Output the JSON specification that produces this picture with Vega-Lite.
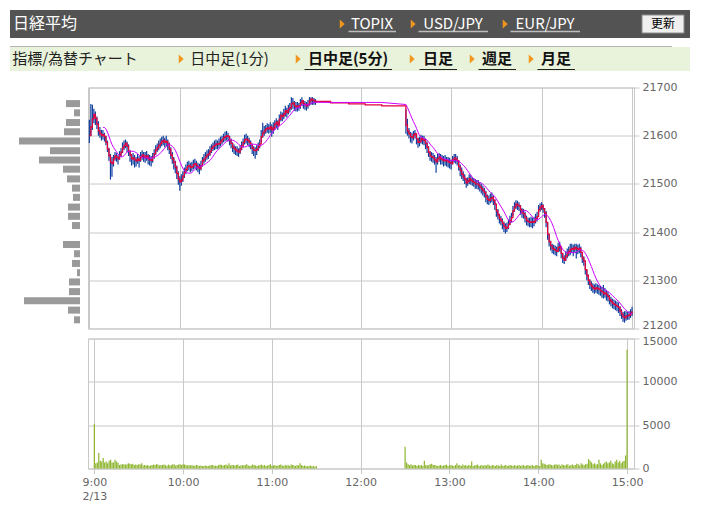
{
"$schema":"https://vega.github.io/schema/vega-lite/v6.json",
"padding":{"left":10,"top":10,"right":5,"bottom":5},
"config":{"view":{"stroke":null},"font":"DejaVu Sans","concat":{"spacing":0}},
"datasets":{
"bars":[
{"m":0,"c":21600,"h":21633,"l":21585,"v":5100},{"m":1,"c":21618,"h":21666,"l":21600,"v":600},{"m":2,"c":21635,"h":21664,"l":21612,"v":700},{"m":3,"c":21644,"h":21656,"l":21626,"v":1800},{"m":4,"c":21636,"h":21650,"l":21622,"v":900},{"m":5,"c":21624,"h":21640,"l":21614,"v":800},{"m":6,"c":21610,"h":21630,"l":21600,"v":1200},{"m":7,"c":21604,"h":21618,"l":21596,"v":700},{"m":8,"c":21600,"h":21612,"l":21590,"v":800},{"m":9,"c":21602,"h":21612,"l":21592,"v":600},
{"m":10,"c":21598,"h":21606,"l":21588,"v":900},{"m":11,"c":21586,"h":21600,"l":21580,"v":1000},{"m":12,"c":21572,"h":21590,"l":21566,"v":700},{"m":13,"c":21558,"h":21575,"l":21548,"v":700},{"m":14,"c":21545,"h":21562,"l":21509,"v":1000},{"m":15,"c":21542,"h":21556,"l":21515,"v":800},{"m":16,"c":21552,"h":21560,"l":21536,"v":650},{"m":17,"c":21558,"h":21566,"l":21548,"v":400},{"m":18,"c":21555,"h":21564,"l":21546,"v":450},{"m":19,"c":21552,"h":21560,"l":21540,"v":500},
{"m":20,"c":21560,"h":21568,"l":21550,"v":500},{"m":21,"c":21566,"h":21574,"l":21556,"v":450},{"m":22,"c":21575,"h":21586,"l":21564,"v":500},{"m":23,"c":21580,"h":21590,"l":21570,"v":600},{"m":24,"c":21584,"h":21592,"l":21574,"v":550},{"m":25,"c":21578,"h":21588,"l":21566,"v":500},{"m":26,"c":21568,"h":21582,"l":21558,"v":550},{"m":27,"c":21560,"h":21570,"l":21546,"v":400},{"m":28,"c":21552,"h":21562,"l":21538,"v":450},{"m":29,"c":21554,"h":21564,"l":21540,"v":400},
{"m":30,"c":21550,"h":21560,"l":21534,"v":500},{"m":31,"c":21548,"h":21556,"l":21536,"v":450},{"m":32,"c":21552,"h":21562,"l":21542,"v":600},{"m":33,"c":21549,"h":21558,"l":21534,"v":350},{"m":34,"c":21556,"h":21566,"l":21546,"v":400},{"m":35,"c":21560,"h":21570,"l":21550,"v":350},{"m":36,"c":21558,"h":21566,"l":21546,"v":400},{"m":37,"c":21555,"h":21566,"l":21544,"v":300},{"m":38,"c":21558,"h":21568,"l":21548,"v":350},{"m":39,"c":21552,"h":21562,"l":21540,"v":400},
{"m":40,"c":21550,"h":21560,"l":21538,"v":450},{"m":41,"c":21549,"h":21558,"l":21536,"v":400},{"m":42,"c":21555,"h":21564,"l":21544,"v":500},{"m":43,"c":21563,"h":21572,"l":21552,"v":450},{"m":44,"c":21570,"h":21580,"l":21560,"v":350},{"m":45,"c":21575,"h":21584,"l":21566,"v":400},{"m":46,"c":21580,"h":21590,"l":21570,"v":400},{"m":47,"c":21584,"h":21594,"l":21574,"v":450},{"m":48,"c":21588,"h":21598,"l":21578,"v":400},{"m":49,"c":21590,"h":21600,"l":21580,"v":300},
{"m":50,"c":21586,"h":21596,"l":21576,"v":450},{"m":51,"c":21588,"h":21600,"l":21578,"v":350},{"m":52,"c":21582,"h":21592,"l":21570,"v":400},{"m":53,"c":21572,"h":21586,"l":21562,"v":500},{"m":54,"c":21560,"h":21576,"l":21552,"v":450},{"m":55,"c":21552,"h":21566,"l":21542,"v":350},{"m":56,"c":21545,"h":21556,"l":21530,"v":400},{"m":57,"c":21535,"h":21548,"l":21522,"v":450},{"m":58,"c":21522,"h":21538,"l":21510,"v":500},{"m":59,"c":21510,"h":21526,"l":21498,"v":400},
{"m":60,"c":21504,"h":21516,"l":21486,"v":500},{"m":61,"c":21508,"h":21520,"l":21496,"v":450},{"m":62,"c":21516,"h":21526,"l":21504,"v":400},{"m":63,"c":21524,"h":21534,"l":21512,"v":350},{"m":64,"c":21530,"h":21540,"l":21520,"v":400},{"m":65,"c":21536,"h":21546,"l":21526,"v":350},{"m":66,"c":21538,"h":21548,"l":21528,"v":400},{"m":67,"c":21534,"h":21544,"l":21524,"v":300},{"m":68,"c":21536,"h":21546,"l":21526,"v":350},{"m":69,"c":21540,"h":21550,"l":21530,"v":400},
{"m":70,"c":21542,"h":21552,"l":21532,"v":350},{"m":71,"c":21538,"h":21548,"l":21528,"v":300},{"m":72,"c":21534,"h":21544,"l":21524,"v":350},{"m":73,"c":21532,"h":21542,"l":21520,"v":300},{"m":74,"c":21538,"h":21548,"l":21528,"v":300},{"m":75,"c":21548,"h":21556,"l":21536,"v":350},{"m":76,"c":21552,"h":21562,"l":21542,"v":300},{"m":77,"c":21556,"h":21566,"l":21546,"v":300},{"m":78,"c":21560,"h":21570,"l":21550,"v":350},{"m":79,"c":21562,"h":21572,"l":21552,"v":400},
{"m":80,"c":21568,"h":21578,"l":21558,"v":400},{"m":81,"c":21574,"h":21582,"l":21564,"v":300},{"m":82,"c":21578,"h":21586,"l":21568,"v":350},{"m":83,"c":21580,"h":21590,"l":21570,"v":300},{"m":84,"c":21583,"h":21592,"l":21572,"v":400},{"m":85,"c":21582,"h":21590,"l":21572,"v":450},{"m":86,"c":21584,"h":21594,"l":21574,"v":400},{"m":87,"c":21588,"h":21598,"l":21578,"v":350},{"m":88,"c":21592,"h":21600,"l":21582,"v":400},{"m":89,"c":21596,"h":21604,"l":21586,"v":450},
{"m":90,"c":21598,"h":21608,"l":21588,"v":350},{"m":91,"c":21600,"h":21610,"l":21590,"v":600},{"m":92,"c":21598,"h":21606,"l":21588,"v":350},{"m":93,"c":21590,"h":21600,"l":21580,"v":400},{"m":94,"c":21584,"h":21594,"l":21574,"v":400},{"m":95,"c":21576,"h":21586,"l":21566,"v":350},{"m":96,"c":21573,"h":21582,"l":21562,"v":400},{"m":97,"c":21570,"h":21578,"l":21560,"v":450},{"m":98,"c":21568,"h":21578,"l":21558,"v":300},{"m":99,"c":21566,"h":21574,"l":21556,"v":350},
{"m":100,"c":21572,"h":21580,"l":21562,"v":400},{"m":101,"c":21579,"h":21588,"l":21570,"v":350},{"m":102,"c":21586,"h":21594,"l":21576,"v":400},{"m":103,"c":21592,"h":21602,"l":21582,"v":500},{"m":104,"c":21593,"h":21604,"l":21584,"v":350},{"m":105,"c":21590,"h":21600,"l":21580,"v":300},{"m":106,"c":21586,"h":21596,"l":21576,"v":350},{"m":107,"c":21582,"h":21590,"l":21572,"v":450},{"m":108,"c":21574,"h":21584,"l":21562,"v":400},{"m":109,"c":21570,"h":21578,"l":21558,"v":350},
{"m":110,"c":21569,"h":21576,"l":21552,"v":300},{"m":111,"c":21572,"h":21580,"l":21560,"v":350},{"m":112,"c":21578,"h":21586,"l":21568,"v":400},{"m":113,"c":21583,"h":21592,"l":21574,"v":450},{"m":114,"c":21598,"h":21612,"l":21586,"v":350},{"m":115,"c":21606,"h":21627,"l":21596,"v":400},{"m":116,"c":21610,"h":21620,"l":21600,"v":300},{"m":117,"c":21614,"h":21622,"l":21604,"v":350},{"m":118,"c":21616,"h":21626,"l":21606,"v":400},{"m":119,"c":21614,"h":21624,"l":21604,"v":500},
{"m":120,"c":21618,"h":21628,"l":21606,"v":300},{"m":121,"c":21612,"h":21624,"l":21598,"v":350},{"m":122,"c":21616,"h":21628,"l":21604,"v":400},{"m":123,"c":21624,"h":21632,"l":21612,"v":300},{"m":124,"c":21628,"h":21636,"l":21616,"v":350},{"m":125,"c":21622,"h":21632,"l":21612,"v":400},{"m":126,"c":21634,"h":21644,"l":21622,"v":450},{"m":127,"c":21642,"h":21650,"l":21630,"v":350},{"m":128,"c":21640,"h":21648,"l":21630,"v":300},{"m":129,"c":21645,"h":21656,"l":21634,"v":400},
{"m":130,"c":21652,"h":21662,"l":21640,"v":350},{"m":131,"c":21648,"h":21658,"l":21638,"v":400},{"m":132,"c":21655,"h":21664,"l":21644,"v":300},{"m":133,"c":21658,"h":21668,"l":21648,"v":450},{"m":134,"c":21666,"h":21680,"l":21654,"v":400},{"m":135,"c":21668,"h":21678,"l":21656,"v":350},{"m":136,"c":21662,"h":21672,"l":21652,"v":300},{"m":137,"c":21660,"h":21670,"l":21650,"v":400},{"m":138,"c":21662,"h":21670,"l":21650,"v":350},{"m":139,"c":21660,"h":21668,"l":21652,"v":600},
{"m":140,"c":21668,"h":21676,"l":21656,"v":400},{"m":141,"c":21672,"h":21680,"l":21662,"v":300},{"m":142,"c":21666,"h":21674,"l":21656,"v":350},{"m":143,"c":21664,"h":21672,"l":21654,"v":300},{"m":144,"c":21662,"h":21670,"l":21652,"v":250},{"m":145,"c":21665,"h":21674,"l":21656,"v":300},{"m":146,"c":21672,"h":21680,"l":21662,"v":350},{"m":147,"c":21676,"h":21680,"l":21664,"v":250},{"m":148,"c":21674,"h":21680,"l":21664,"v":300},{"m":149,"c":21672,"h":21678,"l":21664,"v":200},
{"m":150,"c":21671,"h":21676,"l":21664,"v":300},
{"m":160,"c":21668},{"m":172,"c":21666},{"m":183,"c":21664},{"m":194,"c":21662},
{"m":210,"c":21622,"h":21655,"l":21604,"v":2500},{"m":211,"c":21610,"h":21635,"l":21600,"v":700},{"m":212,"c":21604,"h":21616,"l":21594,"v":500},{"m":213,"c":21598,"h":21608,"l":21586,"v":400},{"m":214,"c":21596,"h":21606,"l":21584,"v":500},{"m":215,"c":21602,"h":21610,"l":21590,"v":350},{"m":216,"c":21604,"h":21612,"l":21594,"v":400},{"m":217,"c":21594,"h":21604,"l":21582,"v":400},{"m":218,"c":21586,"h":21596,"l":21575,"v":300},{"m":219,"c":21588,"h":21598,"l":21578,"v":400},
{"m":220,"c":21594,"h":21602,"l":21584,"v":350},{"m":221,"c":21592,"h":21600,"l":21582,"v":400},{"m":222,"c":21590,"h":21600,"l":21580,"v":300},{"m":223,"c":21584,"h":21594,"l":21572,"v":900},{"m":224,"c":21576,"h":21588,"l":21564,"v":400},{"m":225,"c":21566,"h":21578,"l":21556,"v":350},{"m":226,"c":21558,"h":21568,"l":21548,"v":400},{"m":227,"c":21556,"h":21566,"l":21546,"v":500},{"m":228,"c":21554,"h":21564,"l":21544,"v":550},{"m":229,"c":21550,"h":21560,"l":21540,"v":400},
{"m":230,"c":21546,"h":21556,"l":21523,"v":400},{"m":231,"c":21552,"h":21562,"l":21540,"v":350},{"m":232,"c":21556,"h":21564,"l":21546,"v":300},{"m":233,"c":21552,"h":21562,"l":21540,"v":350},{"m":234,"c":21550,"h":21560,"l":21540,"v":400},{"m":235,"c":21548,"h":21558,"l":21536,"v":300},{"m":236,"c":21550,"h":21560,"l":21538,"v":350},{"m":237,"c":21548,"h":21556,"l":21536,"v":400},{"m":238,"c":21546,"h":21556,"l":21534,"v":450},{"m":239,"c":21544,"h":21554,"l":21532,"v":300},
{"m":240,"c":21542,"h":21550,"l":21530,"v":350},{"m":241,"c":21550,"h":21558,"l":21540,"v":400},{"m":242,"c":21554,"h":21562,"l":21544,"v":350},{"m":243,"c":21552,"h":21562,"l":21542,"v":300},{"m":244,"c":21548,"h":21558,"l":21538,"v":400},{"m":245,"c":21536,"h":21548,"l":21528,"v":600},{"m":246,"c":21528,"h":21540,"l":21516,"v":350},{"m":247,"c":21520,"h":21534,"l":21510,"v":400},{"m":248,"c":21514,"h":21526,"l":21506,"v":300},{"m":249,"c":21510,"h":21520,"l":21500,"v":450},
{"m":250,"c":21502,"h":21512,"l":21492,"v":350},{"m":251,"c":21506,"h":21514,"l":21496,"v":400},{"m":252,"c":21511,"h":21520,"l":21500,"v":300},{"m":253,"c":21508,"h":21518,"l":21498,"v":400},{"m":254,"c":21505,"h":21514,"l":21496,"v":350},{"m":255,"c":21503,"h":21512,"l":21494,"v":800},{"m":256,"c":21500,"h":21510,"l":21490,"v":300},{"m":257,"c":21500,"h":21508,"l":21490,"v":350},{"m":258,"c":21498,"h":21508,"l":21488,"v":400},{"m":259,"c":21494,"h":21504,"l":21484,"v":450},
{"m":260,"c":21490,"h":21500,"l":21480,"v":300},{"m":261,"c":21486,"h":21496,"l":21476,"v":350},{"m":262,"c":21482,"h":21492,"l":21472,"v":400},{"m":263,"c":21474,"h":21486,"l":21462,"v":300},{"m":264,"c":21468,"h":21478,"l":21458,"v":400},{"m":265,"c":21466,"h":21476,"l":21456,"v":350},{"m":266,"c":21470,"h":21480,"l":21460,"v":450},{"m":267,"c":21472,"h":21482,"l":21462,"v":350},{"m":268,"c":21466,"h":21476,"l":21456,"v":300},{"m":269,"c":21458,"h":21468,"l":21446,"v":400},
{"m":270,"c":21444,"h":21456,"l":21432,"v":350},{"m":271,"c":21436,"h":21448,"l":21426,"v":300},{"m":272,"c":21428,"h":21438,"l":21418,"v":400},{"m":273,"c":21424,"h":21434,"l":21414,"v":350},{"m":274,"c":21418,"h":21428,"l":21406,"v":300},{"m":275,"c":21412,"h":21422,"l":21400,"v":450},{"m":276,"c":21408,"h":21418,"l":21397,"v":300},{"m":277,"c":21410,"h":21420,"l":21400,"v":350},{"m":278,"c":21416,"h":21426,"l":21406,"v":400},{"m":279,"c":21424,"h":21434,"l":21414,"v":300},
{"m":280,"c":21430,"h":21440,"l":21420,"v":350},{"m":281,"c":21444,"h":21454,"l":21434,"v":400},{"m":282,"c":21452,"h":21462,"l":21442,"v":350},{"m":283,"c":21458,"h":21466,"l":21448,"v":300},{"m":284,"c":21456,"h":21465,"l":21446,"v":400},{"m":285,"c":21454,"h":21462,"l":21444,"v":300},{"m":286,"c":21446,"h":21456,"l":21436,"v":350},{"m":287,"c":21440,"h":21450,"l":21430,"v":400},{"m":288,"c":21438,"h":21448,"l":21428,"v":300},{"m":289,"c":21430,"h":21442,"l":21420,"v":350},
{"m":290,"c":21424,"h":21434,"l":21414,"v":400},{"m":291,"c":21422,"h":21430,"l":21412,"v":300},{"m":292,"c":21420,"h":21430,"l":21410,"v":350},{"m":293,"c":21421,"h":21432,"l":21410,"v":400},{"m":294,"c":21420,"h":21430,"l":21408,"v":300},{"m":295,"c":21422,"h":21432,"l":21412,"v":350},{"m":296,"c":21428,"h":21438,"l":21418,"v":400},{"m":297,"c":21432,"h":21442,"l":21422,"v":300},{"m":298,"c":21446,"h":21456,"l":21436,"v":350},{"m":299,"c":21452,"h":21460,"l":21442,"v":400},
{"m":300,"c":21455,"h":21462,"l":21446,"v":350},{"m":301,"c":21448,"h":21458,"l":21440,"v":300},{"m":302,"c":21440,"h":21450,"l":21430,"v":1000},{"m":303,"c":21420,"h":21444,"l":21410,"v":600},{"m":304,"c":21396,"h":21420,"l":21384,"v":550},{"m":305,"c":21380,"h":21396,"l":21370,"v":450},{"m":306,"c":21372,"h":21382,"l":21362,"v":400},{"m":307,"c":21366,"h":21376,"l":21356,"v":450},{"m":308,"c":21364,"h":21374,"l":21354,"v":500},{"m":309,"c":21362,"h":21372,"l":21352,"v":400},
{"m":310,"c":21360,"h":21370,"l":21350,"v":350},{"m":311,"c":21368,"h":21378,"l":21358,"v":450},{"m":312,"c":21370,"h":21380,"l":21360,"v":500},{"m":313,"c":21356,"h":21368,"l":21346,"v":400},{"m":314,"c":21346,"h":21356,"l":21336,"v":450},{"m":315,"c":21342,"h":21352,"l":21334,"v":300},{"m":316,"c":21350,"h":21360,"l":21340,"v":500},{"m":317,"c":21356,"h":21366,"l":21346,"v":400},{"m":318,"c":21360,"h":21370,"l":21350,"v":350},{"m":319,"c":21364,"h":21376,"l":21352,"v":450},
{"m":320,"c":21366,"h":21376,"l":21356,"v":500},{"m":321,"c":21364,"h":21374,"l":21350,"v":300},{"m":322,"c":21368,"h":21376,"l":21358,"v":400},{"m":323,"c":21366,"h":21376,"l":21345,"v":450},{"m":324,"c":21364,"h":21374,"l":21354,"v":350},{"m":325,"c":21366,"h":21376,"l":21356,"v":400},{"m":326,"c":21358,"h":21370,"l":21348,"v":550},{"m":327,"c":21346,"h":21356,"l":21336,"v":500},{"m":328,"c":21340,"h":21350,"l":21330,"v":350},{"m":329,"c":21322,"h":21336,"l":21312,"v":600},
{"m":330,"c":21310,"h":21322,"l":21300,"v":450},{"m":331,"c":21300,"h":21312,"l":21290,"v":400},{"m":332,"c":21292,"h":21302,"l":21282,"v":500},{"m":333,"c":21288,"h":21298,"l":21278,"v":550},{"m":334,"c":21284,"h":21294,"l":21274,"v":1100},{"m":335,"c":21282,"h":21292,"l":21272,"v":900},{"m":336,"c":21284,"h":21294,"l":21274,"v":700},{"m":337,"c":21283,"h":21292,"l":21272,"v":500},{"m":338,"c":21281,"h":21290,"l":21270,"v":600},{"m":339,"c":21278,"h":21288,"l":21268,"v":450},
{"m":340,"c":21276,"h":21286,"l":21264,"v":500},{"m":341,"c":21272,"h":21290,"l":21262,"v":1000},{"m":342,"c":21274,"h":21284,"l":21264,"v":600},{"m":343,"c":21270,"h":21280,"l":21258,"v":400},{"m":344,"c":21266,"h":21276,"l":21256,"v":550},{"m":345,"c":21260,"h":21270,"l":21250,"v":700},{"m":346,"c":21256,"h":21266,"l":21246,"v":800},{"m":347,"c":21252,"h":21262,"l":21242,"v":600},{"m":348,"c":21250,"h":21260,"l":21240,"v":700},{"m":349,"c":21248,"h":21258,"l":21238,"v":900},
{"m":350,"c":21246,"h":21256,"l":21236,"v":600},{"m":351,"c":21244,"h":21254,"l":21232,"v":500},{"m":352,"c":21236,"h":21246,"l":21226,"v":800},{"m":353,"c":21230,"h":21240,"l":21220,"v":1000},{"m":354,"c":21224,"h":21234,"l":21214,"v":700},{"m":355,"c":21222,"h":21236,"l":21212,"v":900},{"m":356,"c":21226,"h":21236,"l":21216,"v":600},{"m":357,"c":21226,"h":21234,"l":21218,"v":800},{"m":358,"c":21228,"h":21236,"l":21218,"v":900},{"m":359,"c":21232,"h":21240,"l":21222,"v":1500},
{"m":360,"c":21236,"h":21245,"l":21226,"v":13700}
],
"hist":[
{"p":21676,"v":14},{"p":21656,"v":6},{"p":21635,"v":14},{"p":21615,"v":16},{"p":21595,"v":61},{"p":21574,"v":30},{"p":21554,"v":41},{"p":21534,"v":17},{"p":21513,"v":13},{"p":21493,"v":8},{"p":21473,"v":7},{"p":21452,"v":12},{"p":21432,"v":12},{"p":21412,"v":8},{"p":21371,"v":17},{"p":21351,"v":6},{"p":21330,"v":8},{"p":21310,"v":3},{"p":21290,"v":11},{"p":21269,"v":11},{"p":21249,"v":56},{"p":21229,"v":12},{"p":21208,"v":6}
]
},
"vconcat":[
{"vconcat":[
 {"hconcat":[
  {"width":70,"height":28,"view":{"fill":"#535353"},"data":{"values":[{"t":"日経平均"}]},"mark":{"type":"text","color":"#ffffff","fontSize":16,"font":"Noto Sans CJK JP"},"encoding":{"text":{"field":"t","type":"nominal"}}},
  {"width":256,"height":28,"view":{"fill":"#535353"},"data":{"values":[]},"mark":"point","encoding":{}},
  {"width":12,"height":28,"view":{"fill":"#535353"},"data":{"values":[{"t":""}]},"mark":{"type":"point","shape":"M-0.5,-1L0.6,0L-0.5,1Z","size":81,"filled":true,"color":"#f0961e","opacity":1},"encoding":{}},
  {"width":48,"height":28,"view":{"fill":"#535353"},"data":{"values":[{"t":"TOPIX"}]},"mark":{"type":"text","color":"#ffffff","fontSize":15,"font":"Noto Sans CJK JP"},"encoding":{"text":{"field":"t","type":"nominal"},"x":{"field":"t","type":"nominal","axis":{"title":null,"labels":false,"ticks":false,"grid":false,"domain":true,"domainColor":"#bdbdbd","domainWidth":1.5,"offset":-7}}}},
  {"width":12,"height":28,"view":{"fill":"#535353"},"data":{"values":[]},"mark":"point","encoding":{}},
  {"width":10,"height":28,"view":{"fill":"#535353"},"data":{"values":[{"t":""}]},"mark":{"type":"point","shape":"M-0.5,-1L0.6,0L-0.5,1Z","size":81,"filled":true,"color":"#f0961e","opacity":1},"encoding":{}},
  {"width":70,"height":28,"view":{"fill":"#535353"},"data":{"values":[{"t":"USD/JPY"}]},"mark":{"type":"text","color":"#ffffff","fontSize":15,"font":"Noto Sans CJK JP"},"encoding":{"text":{"field":"t","type":"nominal"},"x":{"field":"t","type":"nominal","axis":{"title":null,"labels":false,"ticks":false,"grid":false,"domain":true,"domainColor":"#bdbdbd","domainWidth":1.5,"offset":-7}}}},
  {"width":12,"height":28,"view":{"fill":"#535353"},"data":{"values":[]},"mark":"point","encoding":{}},
  {"width":10,"height":28,"view":{"fill":"#535353"},"data":{"values":[{"t":""}]},"mark":{"type":"point","shape":"M-0.5,-1L0.6,0L-0.5,1Z","size":81,"filled":true,"color":"#f0961e","opacity":1},"encoding":{}},
  {"width":70,"height":28,"view":{"fill":"#535353"},"data":{"values":[{"t":"EUR/JPY"}]},"mark":{"type":"text","color":"#ffffff","fontSize":15,"font":"Noto Sans CJK JP"},"encoding":{"text":{"field":"t","type":"nominal"},"x":{"field":"t","type":"nominal","axis":{"title":null,"labels":false,"ticks":false,"grid":false,"domain":true,"domainColor":"#bdbdbd","domainWidth":1.5,"offset":-7}}}},
  {"width":60,"height":28,"view":{"fill":"#535353"},"data":{"values":[]},"mark":"point","encoding":{}},
  {"width":46,"height":28,"view":{"fill":"#535353"},"data":{"values":[{"t":"更新"}]},"layer":[
    {"mark":{"type":"point","shape":"M-1,-0.43L1,-0.43L1,0.43L-1,0.43Z","size":1764,"filled":true,"fill":"#efefef","stroke":"#8a8a8a","strokeWidth":1,"opacity":1},"encoding":{}},
    {"mark":{"type":"text","color":"#000000","fontSize":12,"font":"Noto Sans CJK JP"},"encoding":{"text":{"field":"t","type":"nominal"}}}
  ]},
  {"width":4,"height":28,"view":{"fill":"#535353"},"data":{"values":[]},"mark":"point","encoding":{}}
 ],"spacing":0,"bounds":"flush"},
 {"vconcat":[
  {"width":662,"height":1,"view":{"fill":"#b4b4b4"},"data":{"values":[]},"mark":"point","encoding":{}},
  {"hconcat":[
   {"width":130,"height":24,"view":{"fill":"#e9f2da"},"data":{"values":[{"t":"指標/為替チャート"}]},"mark":{"type":"text","color":"#222222","fontSize":15,"font":"Noto Sans CJK JP"},"encoding":{"text":{"field":"t","type":"nominal"}}},
   {"width":35,"height":24,"view":{"fill":"#e9f2da"},"data":{"values":[]},"mark":"point","encoding":{}},
   {"width":12,"height":24,"view":{"fill":"#e9f2da"},"data":{"values":[{"t":""}]},"mark":{"type":"point","shape":"M-0.5,-1L0.6,0L-0.5,1Z","size":81,"filled":true,"color":"#f0961e","opacity":1},"encoding":{}},
   {"width":85,"height":24,"view":{"fill":"#e9f2da"},"data":{"values":[{"t":"日中足(1分)"}]},"mark":{"type":"text","color":"#222222","fontSize":15,"font":"Noto Sans CJK JP"},"encoding":{"text":{"field":"t","type":"nominal"}}},
   {"width":20,"height":24,"view":{"fill":"#e9f2da"},"data":{"values":[]},"mark":"point","encoding":{}},
   {"width":12,"height":24,"view":{"fill":"#e9f2da"},"data":{"values":[{"t":""}]},"mark":{"type":"point","shape":"M-0.5,-1L0.6,0L-0.5,1Z","size":81,"filled":true,"color":"#f0961e","opacity":1},"encoding":{}},
   {"width":88,"height":24,"view":{"fill":"#e9f2da"},"data":{"values":[{"t":"日中足(5分)"}]},"mark":{"type":"text","color":"#111111","fontSize":15,"fontWeight":"bold","font":"Noto Sans CJK JP"},"encoding":{"text":{"field":"t","type":"nominal"},"x":{"field":"t","type":"nominal","axis":{"title":null,"labels":false,"ticks":false,"grid":false,"domain":true,"domainColor":"#222222","domainWidth":1.2,"offset":-2}}}},
   {"width":13,"height":24,"view":{"fill":"#e9f2da"},"data":{"values":[]},"mark":"point","encoding":{}},
   {"width":14,"height":24,"view":{"fill":"#e9f2da"},"data":{"values":[{"t":""}]},"mark":{"type":"point","shape":"M-0.5,-1L0.6,0L-0.5,1Z","size":81,"filled":true,"color":"#f0961e","opacity":1},"encoding":{}},
   {"width":38,"height":24,"view":{"fill":"#e9f2da"},"data":{"values":[{"t":"日足"}]},"mark":{"type":"text","color":"#111111","fontSize":15,"fontWeight":"bold","font":"Noto Sans CJK JP"},"encoding":{"text":{"field":"t","type":"nominal"},"x":{"field":"t","type":"nominal","axis":{"title":null,"labels":false,"ticks":false,"grid":false,"domain":true,"domainColor":"#222222","domainWidth":1.2,"offset":-2}}}},
   {"width":9,"height":24,"view":{"fill":"#e9f2da"},"data":{"values":[]},"mark":"point","encoding":{}},
   {"width":12,"height":24,"view":{"fill":"#e9f2da"},"data":{"values":[{"t":""}]},"mark":{"type":"point","shape":"M-0.5,-1L0.6,0L-0.5,1Z","size":81,"filled":true,"color":"#f0961e","opacity":1},"encoding":{}},
   {"width":38,"height":24,"view":{"fill":"#e9f2da"},"data":{"values":[{"t":"週足"}]},"mark":{"type":"text","color":"#111111","fontSize":15,"fontWeight":"bold","font":"Noto Sans CJK JP"},"encoding":{"text":{"field":"t","type":"nominal"},"x":{"field":"t","type":"nominal","axis":{"title":null,"labels":false,"ticks":false,"grid":false,"domain":true,"domainColor":"#222222","domainWidth":1.2,"offset":-2}}}},
   {"width":9,"height":24,"view":{"fill":"#e9f2da"},"data":{"values":[]},"mark":"point","encoding":{}},
   {"width":12,"height":24,"view":{"fill":"#e9f2da"},"data":{"values":[{"t":""}]},"mark":{"type":"point","shape":"M-0.5,-1L0.6,0L-0.5,1Z","size":81,"filled":true,"color":"#f0961e","opacity":1},"encoding":{}},
   {"width":38,"height":24,"view":{"fill":"#e9f2da"},"data":{"values":[{"t":"月足"}]},"mark":{"type":"text","color":"#111111","fontSize":15,"fontWeight":"bold","font":"Noto Sans CJK JP"},"encoding":{"text":{"field":"t","type":"nominal"},"x":{"field":"t","type":"nominal","axis":{"title":null,"labels":false,"ticks":false,"grid":false,"domain":true,"domainColor":"#222222","domainWidth":1.2,"offset":-2}}}},
   {"width":115,"height":24,"view":{"fill":"#e9f2da"},"data":{"values":[]},"mark":"point","encoding":{}}
  ],"spacing":0,"bounds":"flush"}
 ],"spacing":0,"bounds":"full"}
],"spacing":8,"bounds":"full"},
{"vconcat":[
 {"hconcat":[
  {"width":70,"height":241,"data":{"name":"hist"},"mark":{"type":"bar","orient":"horizontal","color":"#9a9a9a","height":7},
   "encoding":{
    "y":{"field":"p","type":"quantitative","scale":{"domain":[21200,21700],"nice":false,"zero":false},"axis":null},
    "x":{"field":"v","type":"quantitative","scale":{"domain":[0,70],"reverse":true,"nice":false},"axis":null}}},
  {"width":546,"height":241,"view":{"stroke":"#c8c8c8"},"data":{"name":"bars"},
   "encoding":{"x":{"field":"m","type":"quantitative","scale":{"domain":[-0.9,361.3],"nice":false,"zero":false},"axis":{"values":[0,60,120,180,240,300,360],"grid":true,"gridColor":"#c8c8c8","labels":false,"ticks":false,"domain":false,"title":null}}},
   "layer":[
    {"mark":{"type":"rule","color":"#0e3f9e","strokeWidth":1.2},
     "encoding":{"y":{"field":"l","type":"quantitative","scale":{"domain":[21200,21700],"nice":false,"zero":false},"axis":{"orient":"right","values":[21200,21300,21400,21500,21600,21700],"format":"d","grid":true,"gridColor":"#c8c8c8","domain":false,"tickColor":"#c8c8c8","tickSize":5,"labelColor":"#666666","labelFont":"DejaVu Sans","labelFontSize":11,"labelPadding":3,"labelOffset":{"condition":{"test":"datum.value == 21200","value":-3},"value":0},"title":null}},"y2":{"field":"h"}}},
    {"mark":{"type":"line","color":"#e2003c","strokeWidth":1.3,"interpolate":"step-after"},
     "encoding":{"y":{"field":"c","type":"quantitative"}}},
    {"transform":[{"window":[{"op":"mean","field":"c","as":"a"},{"op":"row_number","as":"rn"}],"frame":[-9,0],"sort":[{"field":"m"}]},{"filter":"datum.rn >= 10"}],
     "mark":{"type":"line","color":"#cc00ff","strokeWidth":1},
     "encoding":{"y":{"field":"a","type":"quantitative"}}}
   ]}
 ],"spacing":8,"bounds":"flush"},
 {"hconcat":[
  {"width":70,"height":130,"data":{"values":[]},"mark":"point","encoding":{}},
  {"width":546,"height":130,"view":{"stroke":"#c8c8c8"},"data":{"name":"bars"},
   "mark":{"type":"bar","color":"#8db52e","width":1.2},
   "encoding":{
    "x":{"field":"m","type":"quantitative","scale":{"domain":[-0.9,361.3],"nice":false,"zero":false},"axis":{"values":[0,60,120,180,240,300,360],"grid":true,"gridColor":"#c8c8c8","domain":false,"tickColor":"#c8c8c8","tickSize":5,"labelColor":"#666666","labelFont":"DejaVu Sans","labelFontSize":11,"labelFlush":false,"labelPadding":3,"labelLineHeight":14,"labelExpr":"datum.value == 0 ? ['9:00', '2/13'] : (9 + datum.value / 60) + ':00'","title":null}},
    "y":{"field":"v","type":"quantitative","scale":{"domain":[0,15000],"nice":false},"axis":{"orient":"right","values":[0,5000,10000,15000],"format":"d","grid":true,"gridColor":"#c8c8c8","domain":false,"tickColor":"#c8c8c8","tickSize":5,"labelColor":"#666666","labelFont":"DejaVu Sans","labelFontSize":11,"labelPadding":3,"labelOffset":{"condition":{"test":"datum.value == 15000","value":3},"value":0},"title":null}}}}
 ],"spacing":8,"bounds":"flush"}
],"spacing":3,"bounds":"full"}
],
"spacing":9.5,
"bounds":"full"
}
